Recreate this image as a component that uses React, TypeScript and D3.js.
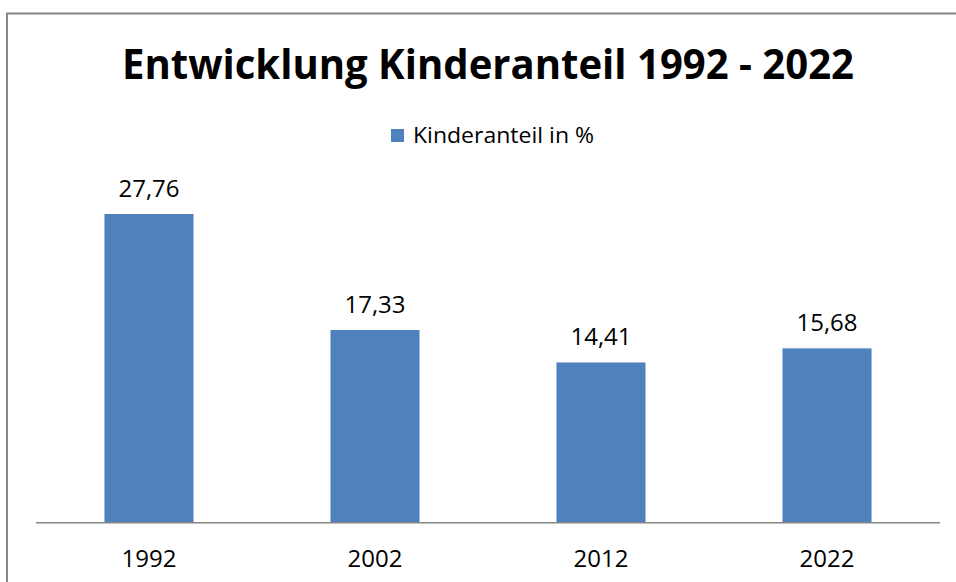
import React from "react";
import * as d3 from "d3";

const categories = ["1992", "2002", "2012", "2022"];
const values = [27.76, 17.33, 14.41, 15.68];
const seriesName = "Kinderanteil in %";
const title = "Entwicklung Kinderanteil 1992 - 2022";

const W = 956;
const H = 582;
const FONT = "'Open Sans', 'Noto Sans', sans-serif";
const BAR = "#4f81bd";

export default function App() {
  const x = d3.scaleBand<string>().domain(categories).range([36, 940]).paddingInner(0.606).paddingOuter(0.303);
  const y = d3.scaleLinear().domain([0, 30]).range([522.7, 189.1]);
  const fmt = (v: number) => d3.format(".2f")(v).replace(".", ",");
  return (
    <svg width={W} height={H} style={{ position: "absolute", left: 0, top: 0, background: "#fff" }}>
      <rect x={0} y={0} width={W} height={H} fill="#fff" />
      <path d={`M7,${H} V13.5 H${W}`} fill="none" stroke="#868686" strokeWidth={2} />
      <text x={488} y={79} textAnchor="middle" fontFamily={FONT} fontWeight={700} fontSize={42} textLength={732} lengthAdjust="spacingAndGlyphs" fill="#000">
        {title}
      </text>
      <rect x={391} y={129} width={13} height={13} fill={BAR} />
      <text x={413} y={143} fontFamily={FONT} fontSize={21} textLength={181} lengthAdjust="spacingAndGlyphs" fill="#000">{seriesName}</text>
      {categories.map((c, i) => (
        <g key={c}>
          <rect x={x(c)} y={y(values[i])} width={x.bandwidth()} height={y(0) - y(values[i])} fill={BAR} />
          <text x={(x(c) as number) + x.bandwidth() / 2} y={y(values[i]) - 17} textAnchor="middle" fontFamily={FONT} fontSize={24} fill="#000">
            {fmt(values[i])}
          </text>
          <text x={(x(c) as number) + x.bandwidth() / 2} y={567} textAnchor="middle" fontFamily={FONT} fontSize={24} fill="#000">
            {c}
          </text>
        </g>
      ))}
      <line x1={36} x2={940} y1={y(0)} y2={y(0)} stroke="#868686" strokeWidth={1.5} />
    </svg>
  );
}
